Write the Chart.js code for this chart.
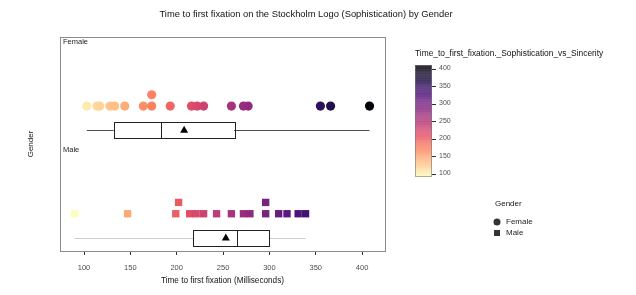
<!DOCTYPE html>
<html>
<head>
<meta charset="utf-8">
<script src="https://cdn.jsdelivr.net/npm/chart.js@4.4.1/dist/chart.umd.min.js"></script>
<style>
  body { margin: 0; background: #fff; }
</style>
</head>
<body>
<canvas id="fixChart" width="636" height="295"></canvas>
<script>
// values
const genders = ['Female', 'Male'];
const femaleTimes = [103, 114, 117, 128, 133, 144, 164, 173, 173, 193, 216, 222, 229, 259, 272, 277, 355, 366, 408];
const femaleStack = [0, 0, 0, 0, 0, 0, 0, 0, 1, 0, 0, 0, 0, 0, 0, 0, 0, 0, 0];
const maleTimes = [90, 147, 199, 202, 214, 221, 229, 243, 259, 272, 279, 296, 296, 310, 319, 331, 339];
const maleStack = [0, 0, 0, 1, 0, 0, 0, 0, 0, 0, 0, 0, 1, 0, 0, 0, 0];

// box stats per gender: [Female, Male]
const boxMin = [103, 90];
const boxQ1 = [132, 218];
const boxMedian = [183, 265];
const boxQ3 = [262, 300];
const boxMax = [408, 339];
const boxMean = [208, 253];
const whiskerColors = ['#4d4d4d', '#cccccc'];

const xTicks = [100, 150, 200, 250, 300, 350, 400];
const colorTicks = [100, 150, 200, 250, 300, 350, 400];
const colorLow = 90;
const colorHigh = 410;

// magma palette stops, dark to light
const magmaStops = ['#000004', '#1c1044', '#4f127b', '#812581', '#b5367a', '#e55064', '#fb8761', '#fec287', '#fcfdbf'];

function hexToRgb(h) {
  return [parseInt(h.slice(1, 3), 16), parseInt(h.slice(3, 5), 16), parseInt(h.slice(5, 7), 16)];
}

// low values light, high values dark (reversed magma)
function magma(v, alpha) {
  let t = 1 - (v - colorLow) / (colorHigh - colorLow);
  t = Math.max(0, Math.min(1, t));
  const pos = t * (magmaStops.length - 1);
  const i = Math.min(Math.floor(pos), magmaStops.length - 2);
  const f = pos - i;
  const a = hexToRgb(magmaStops[i]);
  const b = hexToRgb(magmaStops[i + 1]);
  const c = a.map((x, k) => Math.round(x + (b[k] - x) * f));
  return 'rgba(' + c[0] + ',' + c[1] + ',' + c[2] + ',' + (alpha == null ? 1 : alpha) + ')';
}

const catY = [1, 0];       // Female row, Male row
const stackStep = 0.105;
const boxOffset = -0.226;

const femalePoints = femaleTimes.map((t, i) => ({ x: t, y: catY[0] + femaleStack[i] * stackStep }));
const malePoints = maleTimes.map((t, i) => ({ x: t, y: catY[1] + maleStack[i] * stackStep }));
const meanPoints = boxMean.map((m, i) => ({ x: m, y: catY[i] + boxOffset }));

const FONT = 'Liberation Sans, Arial, sans-serif';

const boxPlugin = {
  id: 'boxes',
  beforeDatasetsDraw(chart) {
    const ctx = chart.ctx;
    const xs = chart.scales.x;
    const ys = chart.scales.y;
    const a = chart.chartArea;
    ctx.save();
    // panel border
    ctx.strokeStyle = '#8c8c8c';
    ctx.lineWidth = 1;
    ctx.strokeRect(a.left + 0.5, a.top + 0.5, a.right - a.left, a.bottom - a.top);
    for (let i = 0; i < genders.length; i++) {
      const yc = ys.getPixelForValue(catY[i] + boxOffset);
      const half = 8;
      ctx.strokeStyle = whiskerColors[i];
      ctx.lineWidth = 1;
      ctx.beginPath();
      ctx.moveTo(xs.getPixelForValue(boxMin[i]), Math.round(yc) + 0.5);
      ctx.lineTo(xs.getPixelForValue(boxMax[i]), Math.round(yc) + 0.5);
      ctx.stroke();
      const x1 = xs.getPixelForValue(boxQ1[i]);
      const x3 = xs.getPixelForValue(boxQ3[i]);
      ctx.fillStyle = '#ffffff';
      ctx.fillRect(x1, yc - half, x3 - x1, half * 2);
      ctx.strokeStyle = '#222222';
      ctx.strokeRect(Math.round(x1) + 0.5, Math.round(yc - half) + 0.5, Math.round(x3 - x1), half * 2);
      const xm = Math.round(xs.getPixelForValue(boxMedian[i])) + 0.5;
      ctx.beginPath();
      ctx.moveTo(xm, yc - half);
      ctx.lineTo(xm, yc + half);
      ctx.stroke();
    }
    // facet labels
    ctx.fillStyle = '#222222';
    ctx.font = '7.5px ' + FONT;
    ctx.textBaseline = 'middle';
    ctx.textAlign = 'left';
    ctx.fillText(genders[0], a.left + 3, a.top + 5);
    ctx.fillText(genders[1], a.left + 3, ys.getPixelForValue(catY[1] + 0.59));
    ctx.restore();
  },
  afterDraw(chart) {
    const ctx = chart.ctx;
    const a = chart.chartArea;
    ctx.save();
    // title
    ctx.fillStyle = '#111111';
    ctx.font = '9.4px ' + FONT;
    ctx.textAlign = 'center';
    ctx.textBaseline = 'middle';
    ctx.fillText('Time to first fixation on the Stockholm Logo (Sophistication) by Gender', 306, 14);
    // y axis title
    ctx.save();
    ctx.translate(31, (a.top + a.bottom) / 2);
    ctx.rotate(-Math.PI / 2);
    ctx.font = '8px ' + FONT;
    ctx.fillText('Gender', 0, 0);
    ctx.restore();

    // colour bar
    const bx = 415, bw = 17, bt = 65, bb = 177;
    ctx.textAlign = 'left';
    ctx.font = '8.4px ' + FONT;
    ctx.fillStyle = '#111111';
    ctx.fillText('Time_to_first_fixation._Sophistication_vs_Sincerity', bx, 54);
    const steps = 60;
    const h = (bb - bt) / steps;
    for (let s = 0; s < steps; s++) {
      const v = colorLow + (colorHigh - colorLow) * (s + 0.5) / steps;
      ctx.fillStyle = magma(v, 0.8);
      ctx.fillRect(bx, bb - (s + 1) * h, bw, h + 0.3);
    }
    ctx.strokeStyle = 'rgba(120,120,120,0.6)';
    ctx.lineWidth = 1;
    ctx.strokeRect(bx + 0.5, bt + 0.5, bw - 1, bb - bt - 1);
    ctx.font = '7px ' + FONT;
    colorTicks.forEach(v => {
      const y = bb - (v - colorLow) / (colorHigh - colorLow) * (bb - bt);
      ctx.strokeStyle = '#333333';
      ctx.beginPath();
      ctx.moveTo(bx + bw, Math.round(y) + 0.5);
      ctx.lineTo(bx + bw + 4, Math.round(y) + 0.5);
      ctx.stroke();
      ctx.fillStyle = '#4d4d4d';
      ctx.fillText(String(v), bx + bw + 7, y);
    });

    // gender legend
    ctx.fillStyle = '#111111';
    ctx.font = '8px ' + FONT;
    ctx.fillText('Gender', 495, 204);
    ctx.fillStyle = '#333333';
    ctx.beginPath();
    ctx.arc(497, 222, 3.5, 0, Math.PI * 2);
    ctx.fill();
    ctx.fillRect(494, 230, 6, 6);
    ctx.fillStyle = '#222222';
    ctx.font = '8px ' + FONT;
    ctx.fillText(genders[0], 506, 222);
    ctx.fillText(genders[1], 506, 233);
    ctx.restore();
  }
};

new Chart(document.getElementById('fixChart'), {
  type: 'scatter',
  data: {
    datasets: [{
      label: 'Female',
      data: femalePoints,
      pointStyle: 'circle',
      pointRadius: 4.6,
      borderWidth: 0,
      backgroundColor: c => magma(c.raw ? c.raw.x : 200)
    }, {
      label: 'Male',
      data: malePoints,
      pointStyle: 'rect',
      pointRadius: 5.2,
      borderWidth: 0,
      backgroundColor: c => magma(c.raw ? c.raw.x : 200)
    }, {
      label: 'Mean',
      data: meanPoints,
      pointStyle: 'triangle',
      pointRadius: 4.6,
      borderWidth: 0,
      backgroundColor: '#000000'
    }]
  },
  options: {
    responsive: false,
    animation: false,
    layout: { padding: { left: 60, right: 251, top: 37, bottom: 0 } },
    plugins: {
      legend: { display: false },
      tooltip: { enabled: false },
      title: { display: false }
    },
    scales: {
      x: {
        type: 'linear',
        min: 74.1,
        max: 424.7,
        afterBuildTicks: s => { s.ticks = xTicks.map(v => ({ value: v })); },
        afterFit: s => { s.height = 44; },
        border: { display: false },
        grid: { drawOnChartArea: false, drawTicks: true, tickLength: 4, tickColor: '#333333' },
        ticks: { color: '#4d4d4d', font: { family: FONT, size: 7.5 }, padding: 8, maxRotation: 0 },
        title: { display: true, text: 'Time to first fixation (Milliseconds)', color: '#111111', font: { family: FONT, size: 8.2 }, padding: { top: 2, bottom: 9 } }
      },
      y: {
        type: 'linear',
        display: false,
        min: -0.346,
        max: 1.641
      }
    }
  },
  plugins: [boxPlugin]
});
</script>
</body>
</html>
